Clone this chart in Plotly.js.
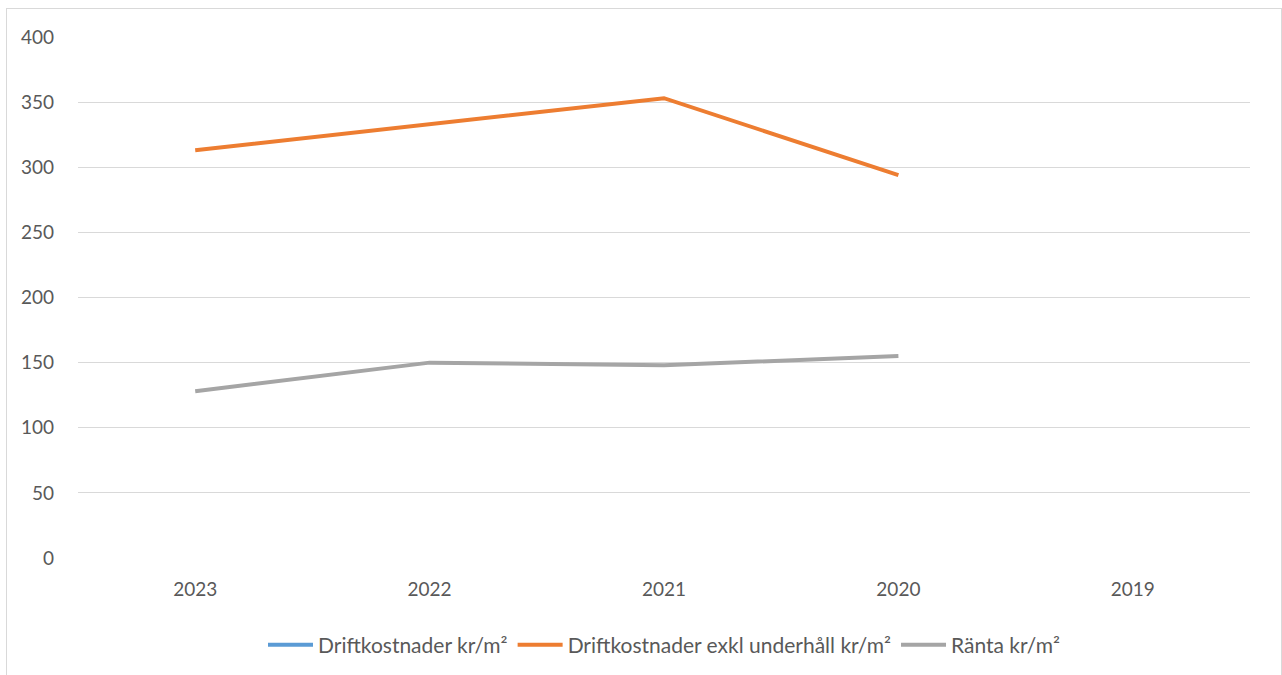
<!DOCTYPE html>
<html>
<head>
<meta charset="utf-8">
<script src="https://cdn.plot.ly/plotly-3.0.1.min.js"></script>
<style>
  body { margin: 0; background: #ffffff; overflow: hidden; }
  #frame { position: absolute; left: 6px; top: 8px; width: 1274px; height: 690px; border: 1px solid #d9d9d9; background: #fff; }
  #chart { width: 1274px; height: 667px; }
</style>
</head>
<body>
<div id="frame"><div id="chart"></div></div>
<script>
const years = ["2023", "2022", "2021", "2020", "2019"];
const driftkostnader = [null, null, null, null, null];
const driftExklUnderhall = [313, 333, 353, 294, null];
const ranta = [128, 150, 148, 155, null];

const seriesNames = ["Driftkostnader kr/m²", "Driftkostnader exkl underhåll kr/m²", "Ränta kr/m²"];
const seriesColors = ["#5b9bd5", "#ed7d31", "#a5a5a5"];
const seriesValues = [driftkostnader, driftExklUnderhall, ranta];

const traces = seriesValues.map((vals, i) => ({
  type: "scatter",
  mode: "lines",
  x: years,
  y: vals,
  name: seriesNames[i],
  line: { color: seriesColors[i], width: 4 },
  connectgaps: false
}));

const layout = {
  width: 1274,
  height: 667,
  margin: { l: 71, r: 31, t: 28, b: 117 },
  paper_bgcolor: "#ffffff",
  plot_bgcolor: "#ffffff",
  font: { family: "Lato, 'Open Sans', sans-serif", size: 19, color: "#595959" },
  showlegend: true,
  legend: {
    orientation: "h",
    x: 0.5, xanchor: "center",
    y: -0.165, yanchor: "middle",
    font: { size: 21, color: "#595959" },
    itemwidth: 45,
    traceorder: "normal"
  },
  xaxis: {
    type: "category",
    categoryorder: "array",
    categoryarray: years,
    range: [-0.5, 4.5],
    showgrid: false,
    zeroline: false,
    showline: false,
    ticks: "",
    ticklabelstandoff: 18,
    tickfont: { size: 19, color: "#595959" }
  },
  yaxis: {
    range: [0, 400],
    tickvals: [0, 50, 100, 150, 200, 250, 300, 350, 400],
    showgrid: true,
    gridcolor: "#d9d9d9",
    gridwidth: 1,
    zeroline: false,
    showline: false,
    ticks: "",
    ticklabelstandoff: 23,
    tickfont: { size: 19, color: "#595959" }
  }
};

Plotly.newPlot("chart", traces, layout, { displayModeBar: false, staticPlot: true });
</script>
</body>
</html>
